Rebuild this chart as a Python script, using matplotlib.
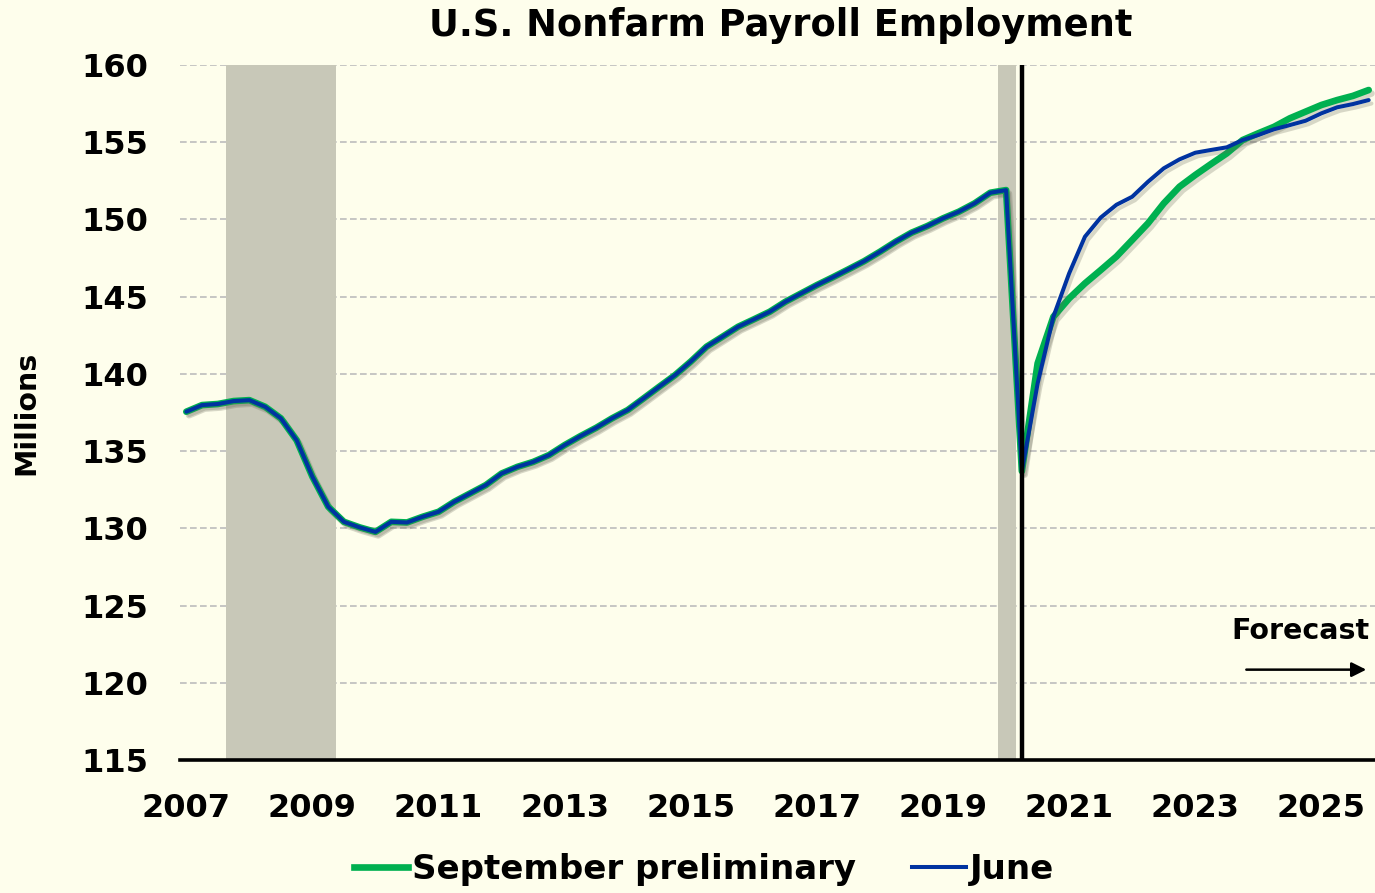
import numpy as np
import matplotlib
matplotlib.use("Agg")
import matplotlib.pyplot as plt
import matplotlib.patheffects as pe
from matplotlib.lines import Line2D

# quarterly, 2007Q1 .. 2020Q2 (shared history), millions
history = [137.55, 137.98, 138.05, 138.24, 138.30, 137.87, 137.12, 135.70,
           133.34, 131.40, 130.42, 130.06, 129.77, 130.42, 130.38, 130.75,
           131.07, 131.72, 132.26, 132.80, 133.55, 133.98, 134.30, 134.74,
           135.39, 135.97, 136.51, 137.12, 137.66, 138.41, 139.17, 139.92,
           140.80, 141.76, 142.40, 143.05, 143.53, 144.02, 144.67, 145.21,
           145.75, 146.25, 146.77, 147.30, 147.91, 148.56, 149.14, 149.57,
           150.07, 150.50, 151.04, 151.73, 151.90, 133.70]
# 2020Q3 .. 2025Q4
sept_after = [140.68, 143.70, 144.89, 145.86, 146.72, 147.60, 148.67, 149.75,
              151.04, 152.12, 152.88, 153.59, 154.28, 155.14, 155.58, 156.00,
              156.55, 156.98, 157.41, 157.73, 158.00, 158.38]
june_after = [139.38, 143.70, 146.51, 148.88, 150.12, 150.95, 151.47, 152.44,
              153.31, 153.89, 154.32, 154.50, 154.67, 155.14, 155.47, 155.84,
              156.11, 156.39, 156.87, 157.26, 157.47, 157.73]
year_labels = ['2007', '2009', '2011', '2013', '2015', '2017', '2019',
               '2021', '2023', '2025']

sept = history + sept_after
june = history + june_after
q = np.arange(len(sept))

bg = '#FEFEEC'
green = '#00B050'
blue = '#0033A0'
plt.rcParams['font.family'] = 'DejaVu Sans'
plt.rcParams['font.weight'] = 'bold'

fig = plt.figure(figsize=(13.75, 8.93), dpi=100, facecolor=bg)
ax = fig.add_axes([180 / 1375, 133 / 893, 1 - 180 / 1375, 695 / 893])
ax.set_facecolor(bg)

# recessions
ax.axvspan(2.5, 9.5, color='#C8C8B8', zorder=1, lw=0)
ax.axvspan(51.5, 52.6, color='#C8C8B8', zorder=1, lw=0)

for y in range(120, 161, 5):
    ax.axhline(y, color='#BDBDBD', lw=1.2, ls=(0, (4, 2)), zorder=0.5)

shadow = [pe.SimpleLineShadow(offset=(2, -2.5), shadow_color='#666655', alpha=0.25),
          pe.Normal()]
ax.plot(q, sept, color=green, lw=4.8, solid_capstyle='round',
        path_effects=shadow, zorder=3)
ax.plot(q, june, color=blue, lw=2.9, solid_capstyle='round',
        path_effects=shadow, zorder=4)

ax.axvline(53, color='black', lw=3.2, zorder=5)

ax.set_xlim(-0.4, 75.4)
ax.set_ylim(115, 160)
ax.set_yticks(range(115, 161, 5))
ax.set_xticks(range(0, 76, 8))
ax.set_xticklabels(year_labels)
ax.tick_params(length=0, labelsize=23)
ax.tick_params(axis='x', pad=24)
ax.tick_params(axis='y', pad=23)
for lab in ax.get_xticklabels() + ax.get_yticklabels():
    lab.set_fontweight('bold')
for s in ['left', 'right', 'top']:
    ax.spines[s].set_visible(False)
ax.spines['bottom'].set_linewidth(2.6)
ax.spines['bottom'].set_zorder(6)

ax.set_ylabel('Millions', fontsize=20.5, fontweight='bold')
ax.yaxis.set_label_coords(-0.117, 0.5)

fig.text(0.568, 0.971, 'U.S. Nonfarm Payroll Employment', ha='center', va='center',
         fontsize=26.5, fontweight='bold')

ax.text(0.995, 0.185, 'Forecast', transform=ax.transAxes, ha='right', va='center',
        fontsize=20.5, fontweight='bold')
ax.annotate('', xy=(0.995, 0.13), xytext=(0.89, 0.13), xycoords='axes fraction',
            arrowprops=dict(arrowstyle='-|>', color='black', lw=1.8, mutation_scale=22))

handles = [Line2D([], [], color=green, lw=4.8), Line2D([], [], color=blue, lw=2.9)]
fig.legend(handles, ['September preliminary', 'June'], loc='center',
           bbox_to_anchor=(0.512, 0.026), ncol=2, frameon=False,
           handlelength=1.6, handletextpad=0.1, columnspacing=1.65,
           prop={'weight': 'bold', 'size': 24.5})

fig.savefig('out.png', dpi=100, facecolor=bg)
